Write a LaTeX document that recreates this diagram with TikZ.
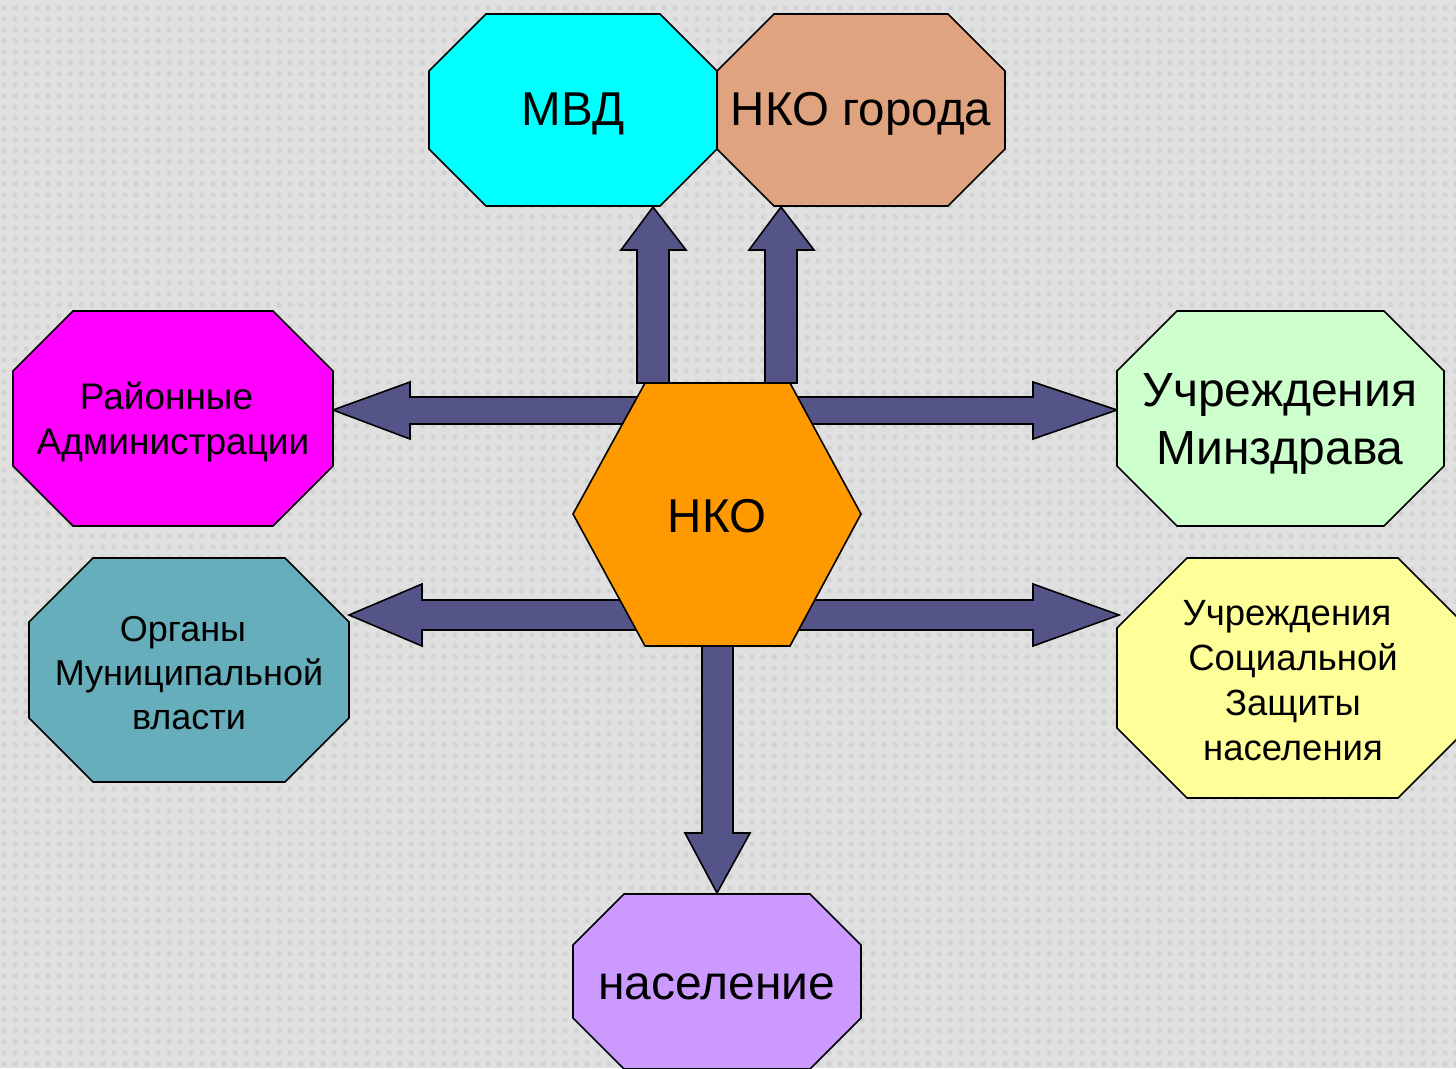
\documentclass[tikz,border=0pt]{standalone}
\usepackage{fontspec}
\setmainfont{Liberation Sans}
\usetikzlibrary{patterns}
\definecolor{bgc}{HTML}{E0E0E0}
\definecolor{bgd}{HTML}{D2D2D2}
\definecolor{arrc}{HTML}{545489}
\definecolor{cmvd}{HTML}{00FFFF}
\definecolor{cnkog}{HTML}{E0A37F}
\definecolor{cmag}{HTML}{FF00FF}
\definecolor{cmzd}{HTML}{CCFFCC}
\definecolor{cteal}{HTML}{66AEBB}
\definecolor{cyel}{HTML}{FFFF99}
\definecolor{cpop}{HTML}{CC99FF}
\definecolor{cnko}{HTML}{FF9900}
\pgfdeclarepatternformonly{bgsq}{\pgfpointorigin}{\pgfqpoint{11pt}{11pt}}{\pgfqpoint{11pt}{11pt}}{%
  \pgfpathrectangle{\pgfqpoint{3pt}{3pt}}{\pgfqpoint{5pt}{5pt}}\pgfusepath{fill}}
\newcommand{\octa}[6]{% x1 y1 x2 y2 cut color
  \filldraw[shapeline,fill=#6] (#1+#5,#2)--(#3-#5,#2)--(#3,#2+#5)--(#3,#4-#5)--(#3-#5,#4)--(#1+#5,#4)--(#1,#4-#5)--(#1,#2+#5)--cycle;}
\begin{document}
\begin{tikzpicture}[x=1pt,y=-1pt,
  shapeline/.style={draw=black,line width=1.6pt,line join=miter},
  blockarrow/.style={draw=black,line width=1.6pt,fill=arrc,line join=miter},
  lbl/.style={align=center,inner sep=0pt,text=black}]
\useasboundingbox (0,0) rectangle (1456,1068);
\clip (0,0) rectangle (1456,1068);
\fill[bgc] (0,0) rectangle (1456,1068);
\fill[pattern=bgsq,pattern color=bgd] (0,0) rectangle (1456,1068);
% block arrows
\filldraw[blockarrow] (637,383)--(637,250)--(621,250)--(653,207)--(686,250)--(669,250)--(669,383)--cycle;
\filldraw[blockarrow] (765,383)--(765,250)--(749,250)--(781,207)--(814,250)--(797,250)--(797,383)--cycle;
\filldraw[blockarrow] (717,397)--(410,397)--(410,382)--(333,410)--(410,439)--(410,424)--(717,424)--cycle;
\filldraw[blockarrow] (717,397)--(1033,397)--(1033,382)--(1117,410)--(1033,439)--(1033,424)--(717,424)--cycle;
\filldraw[blockarrow] (717,600)--(422,600)--(422,584)--(349,615)--(422,646)--(422,630)--(717,630)--cycle;
\filldraw[blockarrow] (717,600)--(1033,600)--(1033,584)--(1119,615)--(1033,646)--(1033,630)--(717,630)--cycle;
\filldraw[blockarrow] (702,600)--(702,833)--(685,833)--(717,893)--(750,833)--(733,833)--(733,600)--cycle;
% centre hexagon
\filldraw[shapeline,fill=cnko] (573,514)--(645,383)--(790,383)--(861,514)--(790,646)--(645,646)--cycle;
% octagons
\octa{429}{14}{717}{206}{57}{cmvd}
\octa{717}{14}{1005}{206}{57}{cnkog}
\octa{13}{311}{333}{526}{60}{cmag}
\octa{1117}{311}{1444}{526}{60}{cmzd}
\octa{29}{558}{349}{782}{64}{cteal}
\octa{1117}{558}{1468}{798}{70}{cyel}
\octa{573}{894}{861}{1069}{51}{cpop}
% labels
\node[lbl,font=\fontsize{47.5}{57}\selectfont] (mvd) at (573,114) {МВД};
\node[lbl,font=\fontsize{47.5}{57}\selectfont] (nkog) at (861,114) {НКО города};
\node[lbl,font=\fontsize{37}{45}\selectfont] (rayon) at (173,422) {Районные\kern13pt\\Администрации};
\node[lbl,font=\fontsize{48}{58}\selectfont] (minzd) at (1280,424) {Учреждения\\Минздрава};
\node[lbl,font=\fontsize{36}{44}\selectfont] (organy) at (189,673) {Органы\kern12pt\\Муниципальной\\власти};
\node[lbl,font=\fontsize{36.5}{45}\selectfont] (soc) at (1293,681) {Учреждения\kern12pt\\Социальной\\Защиты\\населения};
\node[lbl,font=\fontsize{48}{58}\selectfont] (pop) at (717,987) {население};
\node[lbl,font=\fontsize{47.5}{57}\selectfont] (nko) at (717,516) {НКО};
\end{tikzpicture}
\end{document}
